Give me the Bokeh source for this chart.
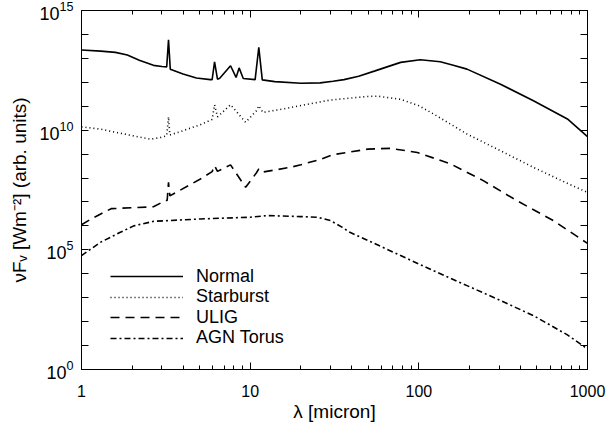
from bokeh.plotting import figure
from bokeh.models import (FixedTicker, LogAxis, Legend, LegendItem,
                          CustomJSTickFormatter, LogTickFormatter)
from bokeh.embed import file_html
from bokeh.resources import INLINE

# ---------------- data ----------------
wl_normal = [1.0, 1.3, 1.59, 1.87, 2.2, 2.67, 3.0, 3.2, 3.28, 3.36, 4.0, 4.8,
             5.8, 5.95, 6.15, 6.4, 6.6, 7.65, 8.25, 8.6, 9.1, 10.7, 11.25, 11.8,
             14, 20, 26, 31, 36, 44, 55, 78, 102, 134, 160, 193, 305, 478, 760, 1000]
sed_normal = [2.24e13, 2.0e13, 1.78e13, 1.38e13, 8.3e12, 5.1e12, 4.6e12, 4.4e12, 5.9e13, 3.55e12, 2.24e12, 1.51e12,
              1.29e12, 1.29e12, 7.2e12, 1.35e12, 1.48e12, 4.9e12, 1.6e12, 4.0e12, 1.45e12, 1.29e12, 2.9e13, 1.26e12,
              1.07e12, 9.1e11, 9.5e11, 1.1e12, 1.29e12, 1.78e12, 3.0e12, 6.8e12, 8.7e12, 7.2e12, 5.2e12, 3.55e12, 8.3e11, 1.7e11, 2.95e10, 5.4e9]

wl_starburst = [1.0, 1.3, 1.63, 2.04, 2.56, 2.94, 3.2, 3.28, 3.34, 4.0, 5.07, 5.95, 6.15, 6.4,
                7.65, 9.4, 10.9, 11.25, 11.9, 16, 20, 30, 50, 57, 78, 100, 122, 193, 305, 478, 760, 1000]
sed_starburst = [1.38e10, 1.1e10, 7.9e9, 5.75e9, 4.2e9, 4.9e9, 5.9e9, 3.6e10, 6.3e9, 9.5e9, 1.7e10, 2.8e10, 1.15e11, 3.6e10,
                 1.15e11, 2.14e10, 6.5e10, 1.05e11, 5.5e10, 7.9e10, 1.07e11, 1.82e11, 2.57e11, 2.63e11, 1.95e11, 1.05e11, 4.8e10, 6.9e9, 1.38e9, 2.8e8, 6.0e7, 2.5e7]

wl_ulig = [1.0, 1.15, 1.3, 1.5, 2.0, 2.67, 3.15, 3.22, 3.28, 3.34, 5.07, 5.95, 6.15, 6.4,
           7.65, 9.4, 10.9, 11.25, 11.9, 17.3, 20, 26, 31, 50, 68, 98, 154, 241, 380, 628, 1000]
sed_ulig = [1.12e6, 2.0e6, 3.16e6, 5.25e6, 5.75e6, 6.3e6, 1.15e7, 1.15e7, 6.6e7, 1.8e7, 9.1e7, 1.86e8, 3.3e8, 1.9e8,
            3.55e8, 4.1e7, 1.66e8, 2.4e8, 1.78e8, 2.8e8, 3.6e8, 6.0e8, 9.5e8, 1.62e9, 1.74e9, 1.17e9, 3.9e8, 7.8e7, 1.15e7, 1.66e6, 1.86e5]

wl_agn = [1.0, 1.3, 1.7, 2.04, 2.67, 5.07, 10, 12.6, 20, 25, 30, 35, 39, 50, 78, 122, 193, 305, 478, 760, 1000]
sed_agn = [5.75e4, 2.1e5, 5.4e5, 1.0e6, 1.55e6, 1.95e6, 2.3e6, 2.7e6, 2.45e6, 2.3e6, 1.66e6, 8.9e5, 5.4e5, 2.45e5,
           5.75e4, 1.35e4, 3.2e3, 7.6e2, 1.78e2, 28, 7.2]

series_names = ["Normal", "Starburst", "ULIG", "AGN Torus"]

x_major_ticks = [1, 10, 100, 1000]
x_major_labels = ["1", "10", "100", "1000"]
x_minor_ticks = [2, 3, 4, 5, 6, 7, 8, 9, 20, 30, 40, 50, 60, 70, 80, 90,
                 200, 300, 400, 500, 600, 700, 800, 900]
y_major_ticks = [1, 1e5, 1e10, 1e15]
y_minor_ticks = [1e1, 1e2, 1e3, 1e4, 1e6, 1e7, 1e8, 1e9, 1e11, 1e12, 1e13, 1e14]

x_title = "λ [micron]"
y_title = "νFᵥ [Wm⁻²] (arb. units)"

FONT = "Liberation Sans"

# ---------------- figure ----------------
p = figure(width=611, height=424, x_axis_type="log", y_axis_type="log",
           x_range=(1, 1000), y_range=(1, 1e15),
           output_backend="svg", toolbar_location=None,
           min_border_left=81, min_border_right=24, min_border_top=10, min_border_bottom=55,
           background_fill_color="white", border_fill_color="white")
p.xgrid.visible = False
p.ygrid.visible = False
p.outline_line_color = "black"
p.outline_line_width = 1

def style_axis(ax, tick_major, tick_minor):
    ax.axis_line_color = "black"
    ax.axis_line_width = 1
    ax.major_tick_line_color = "black"
    ax.minor_tick_line_color = "black"
    ax.major_tick_in = tick_major
    ax.major_tick_out = 0
    ax.minor_tick_in = tick_minor
    ax.minor_tick_out = 0
    ax.major_label_text_font = FONT
    ax.major_label_text_color = "black"
    ax.axis_label_text_font = FONT
    ax.axis_label_text_font_style = "normal"
    ax.axis_label_text_color = "black"

xax = p.xaxis[0]
xax.ticker = FixedTicker(ticks=x_major_ticks, minor_ticks=x_minor_ticks)
xax.major_label_overrides = {t: l for t, l in zip(x_major_ticks, x_major_labels)}
style_axis(xax, 7, 4)
xax.major_label_text_font_size = "16px"
xax.major_label_standoff = 15
xax.axis_label = x_title
xax.axis_label_text_font_size = "19px"
xax.axis_label_standoff = 1

yax = p.yaxis[0]
yax.ticker = FixedTicker(ticks=y_major_ticks, minor_ticks=y_minor_ticks)
yax.formatter = LogTickFormatter()
style_axis(yax, 7, 7)
yax.major_label_text_font_size = "18px"
yax.major_label_standoff = 8
yax.axis_label = y_title
yax.axis_label_text_font_size = "19px"
yax.axis_label_standoff = 6

blank = CustomJSTickFormatter(code="return ''")
top = LogAxis(ticker=FixedTicker(ticks=x_major_ticks, minor_ticks=x_minor_ticks), formatter=blank,
              major_label_standoff=0)
style_axis(top, 7, 4)
top.major_label_text_font_size = "1px"
p.add_layout(top, "above")
right = LogAxis(ticker=FixedTicker(ticks=y_major_ticks, minor_ticks=y_minor_ticks), formatter=blank,
                major_label_standoff=0)
style_axis(right, 7, 7)
right.major_label_text_font_size = "1px"
p.add_layout(right, "right")

# ---------------- curves ----------------
lw = 1.6
r1 = p.line(wl_normal, sed_normal, line_color="black", line_width=lw)
r2 = p.line(wl_starburst, sed_starburst, line_color="black", line_width=lw, line_dash="1 3")
r3 = p.line(wl_ulig, sed_ulig, line_color="black", line_width=lw, line_dash="9 6")
r4 = p.line(wl_agn, sed_agn, line_color="black", line_width=lw, line_dash="6 3 2 3")

# one single-entry legend per row, so the row pitch matches the reference
row_pitch = 20.5
item_h = 30
first_row_center_from_bottom = 92.75  # frame bottom -> centre of "Normal" row (px)
for i, (n, r) in enumerate(zip(series_names, [r1, r2, r3, r4])):
    yoff = first_row_center_from_bottom - i * row_pitch - item_h / 2
    lg = Legend(items=[LegendItem(label=n, renderers=[r])],
                location=(29, yoff), orientation="vertical",
                glyph_width=73, glyph_height=item_h, label_height=item_h, label_standoff=13,
                spacing=0, padding=0, margin=0,
                border_line_color=None, background_fill_alpha=0,
                label_text_font=FONT, label_text_font_size="18px", label_text_color="black")
    p.add_layout(lg)

open("out.html", "w").write(file_html(p, INLINE))
